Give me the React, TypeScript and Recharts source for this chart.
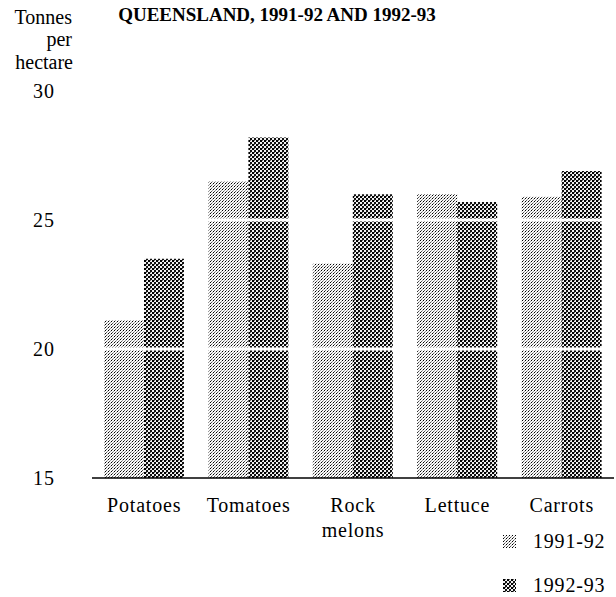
import React from "react";
import { BarChart, Bar, XAxis, YAxis, ReferenceLine } from "recharts";

const categories = ["Potatoes", "Tomatoes", "Rock melons", "Lettuce", "Carrots"];
const series1991 = [21.1, 26.5, 23.3, 26.0, 25.9];
const series1992 = [23.5, 28.2, 26.0, 25.7, 26.9];
const seriesNames = ["1991-92", "1992-93"];
const yTicks = [15, 20, 25, 30];
const gridValues = [20, 25];
const title = "QUEENSLAND, 1991-92 AND 1992-93";
const yTitle = ["Tonnes", "per", "hectare"];

const data = categories.map((c, i) => ({ name: c, a: series1991[i], b: series1992[i] }));

const FONT = "Liberation Serif, Times New Roman, Tinos, DejaVu Serif, serif";

const XTick = (props: any) => {
  const { x, y, payload } = props;
  const words = String(payload.value).split(" ");
  const lines = words.length > 1 ? words : [payload.value];
  return (
    <text x={x} y={y} textAnchor="middle" style={{ fontFamily: FONT }} fontSize={20} fill="#000" letterSpacing={0.8}>
      {lines.map((l: string, i: number) => (
        <tspan key={i} x={x} dy={i === 0 ? "0.71em" : 25}>
          {l}
        </tspan>
      ))}
    </text>
  );
};

const YTick = (props: any) => {
  const { x, y, payload } = props;
  return (
    <text x={x} y={y} dy="0.355em" textAnchor="end" style={{ fontFamily: FONT }} fontSize={20} fill="#000" letterSpacing={1}>
      {payload.value}
    </text>
  );
};

const Swatch = ({ id }: { id: string }) => (
  <svg width={13} height={13} style={{ display: "block" }}>
    <rect width={13} height={13} fill={`url(#${id})`} />
  </svg>
);

export default function App() {
  return (
    <div style={{ position: "absolute", left: 0, top: 0, width: 616, height: 597, background: "#fff", fontFamily: FONT }}>
      <BarChart
        width={616}
        height={597}
        data={data}
        margin={{ top: 91, right: 2, left: 0, bottom: 0 }}
        barGap={0}
        barSize={40}
      >
        <defs>
          <pattern id="pLight" width={3} height={3} patternUnits="userSpaceOnUse">
            <rect width={3} height={3} fill="#fafafa" />
            <rect x={0} y={0} width={1} height={1} fill="#000" />
            <rect x={1} y={2} width={1} height={1} fill="#555" />
            <rect x={2} y={1} width={1} height={1} fill="#999" />
          </pattern>
          <pattern id="pDark" width={4} height={4} patternUnits="userSpaceOnUse">
            <rect width={4} height={4} fill="#f0f0f0" />
            <rect x={0} y={0} width={2} height={2} fill="#000" />
            <rect x={2} y={2} width={2} height={2} fill="#111" />
            <rect x={2} y={0} width={1} height={1} fill="#666" />
          </pattern>
        </defs>
        <XAxis
          dataKey="name"
          height={119}
          tickLine={false}
          axisLine={{ stroke: "#000", strokeWidth: 1.5 }}
          tickSize={6}
          tickMargin={14}
          tick={<XTick />}
          interval={0}
        />
        <YAxis
          width={92}
          domain={[15, 30]}
          ticks={yTicks}
          allowDataOverflow
          axisLine={false}
          tickLine={false}
          tickSize={6}
          tickMargin={31}
          tick={<YTick />}
        />
        <Bar dataKey="a" name={seriesNames[0]} fill="url(#pLight)" isAnimationActive={false} />
        <Bar dataKey="b" name={seriesNames[1]} fill="url(#pDark)" isAnimationActive={false} />
        {gridValues.map((g) => (
          <ReferenceLine key={g} y={g} stroke="#fff" strokeWidth={3} />
        ))}
      </BarChart>

      <div style={{ position: "absolute", left: 118, top: 3, width: 318, textAlign: "center", fontWeight: "bold", fontSize: 19, whiteSpace: "nowrap", lineHeight: "24px" }}>
        {title}
      </div>
      <div style={{ position: "absolute", right: 544, top: 10, fontSize: 20, lineHeight: "15px" }}>{yTitle[0]}</div>
      <div style={{ position: "absolute", right: 544, top: 32, fontSize: 20, lineHeight: "15px" }}>{yTitle[1]}</div>
      <div style={{ position: "absolute", right: 543, top: 55, fontSize: 20, lineHeight: "15px" }}>{yTitle[2]}</div>

      {seriesNames.map((n, i) => (
        <div key={n} style={{ position: "absolute", left: 503, top: 529 + i * 44, display: "flex", alignItems: "center", fontSize: 20, lineHeight: "24px", letterSpacing: 0.8 }}>
          <Swatch id={i === 0 ? "pLight" : "pDark"} />
          <span style={{ marginLeft: 17 }}>{n}</span>
        </div>
      ))}
    </div>
  );
}
